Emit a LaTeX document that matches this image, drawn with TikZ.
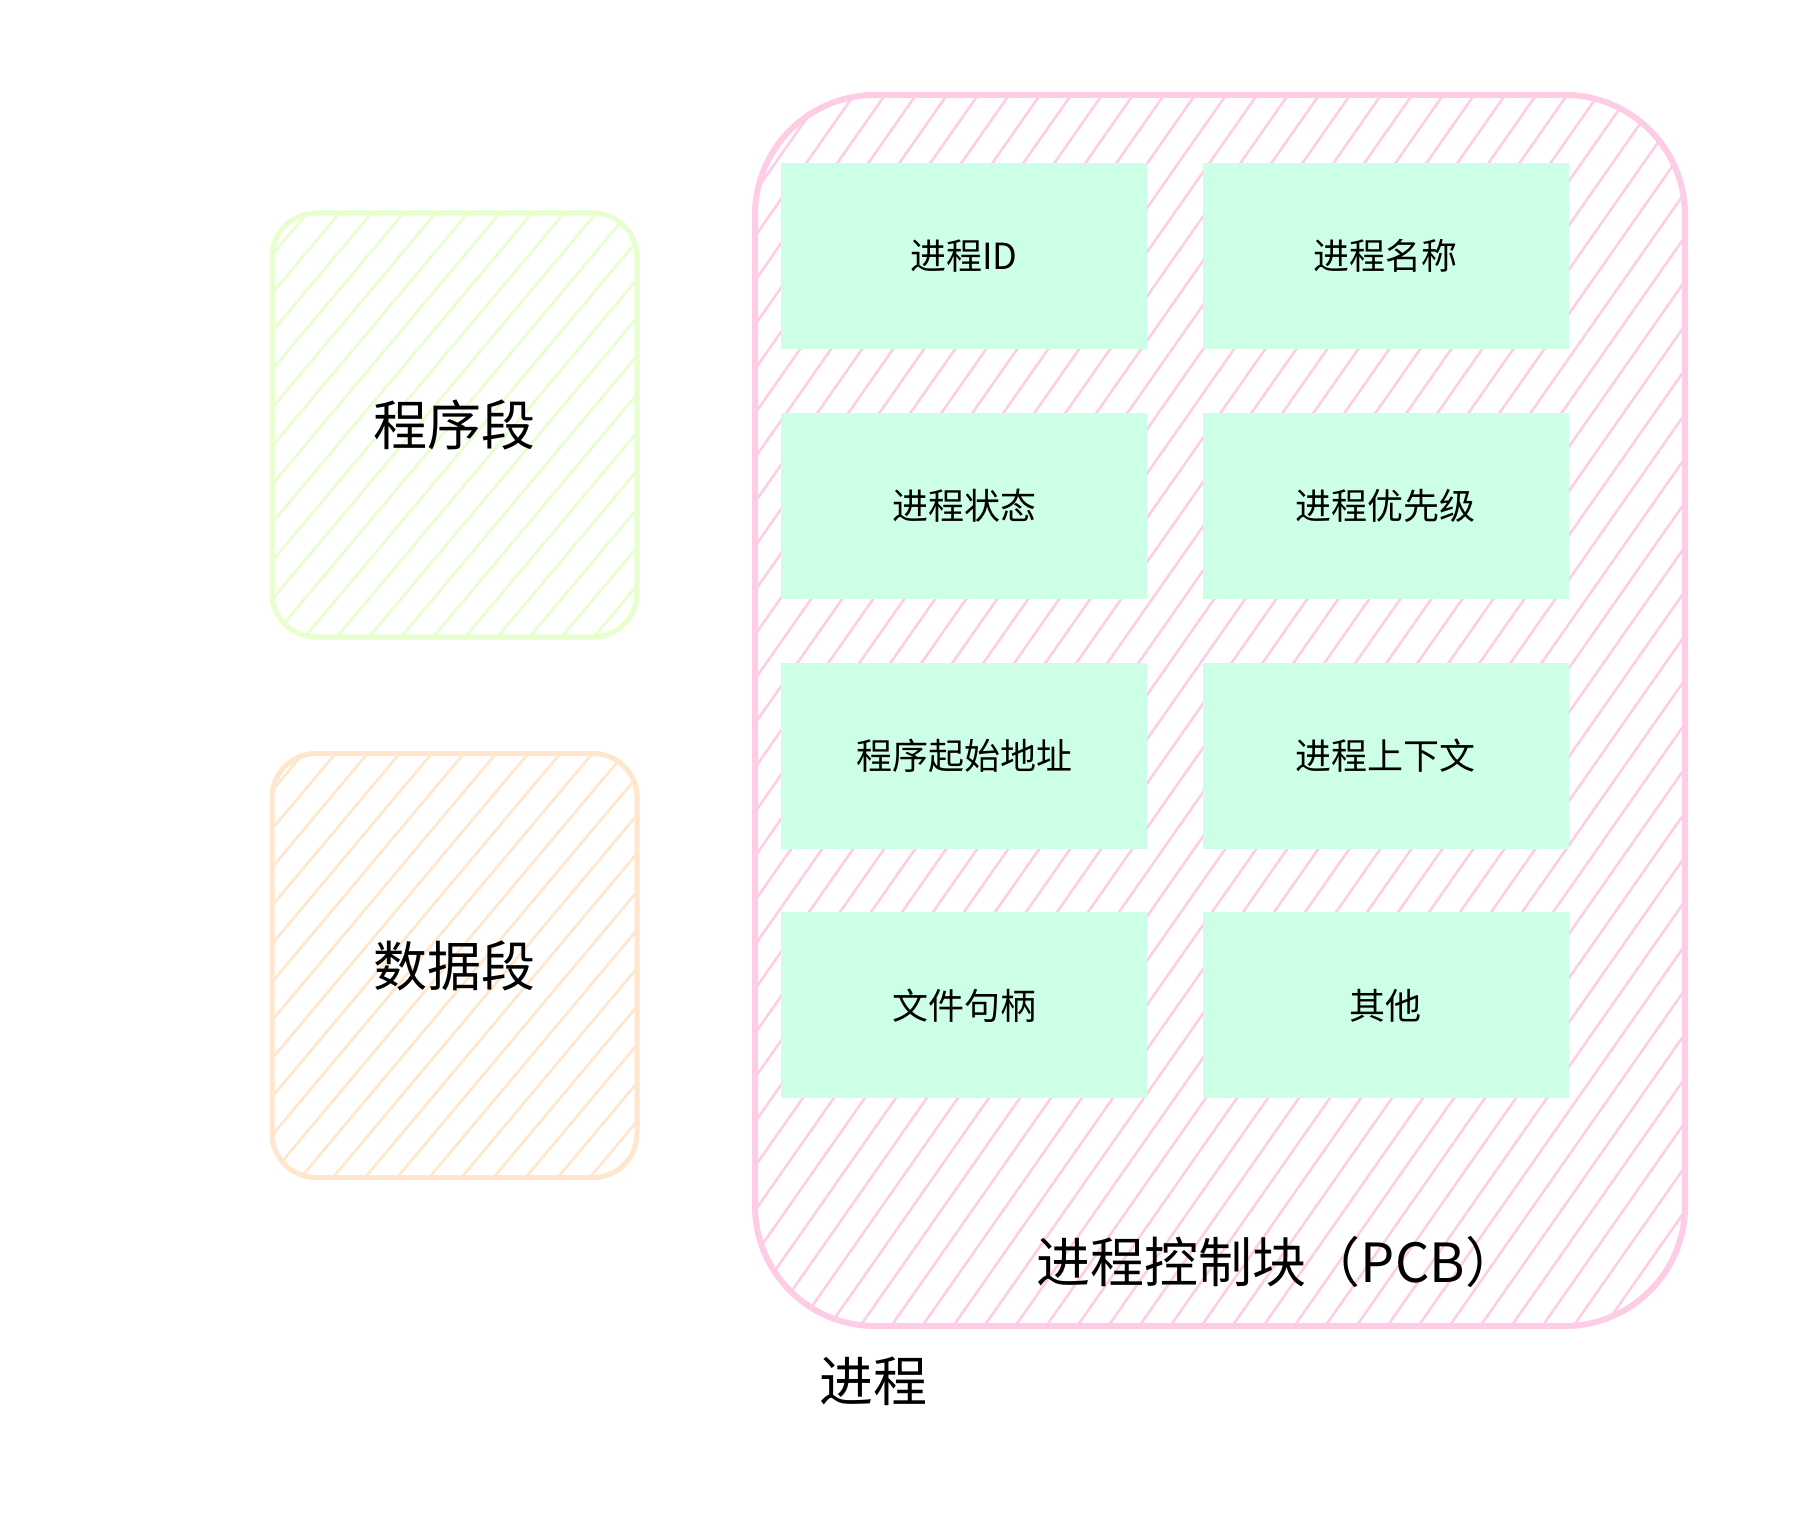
\documentclass[tikz,border=0pt]{standalone}
\usepackage{fontspec}
\setmainfont{Noto Sans CJK SC}
\usetikzlibrary{positioning,patterns.meta}
\definecolor{pcbpink}{HTML}{FFCCE6}
\definecolor{codegreen}{HTML}{E6FFCC}
\definecolor{dataorange}{HTML}{FFE6CC}
\definecolor{cellmint}{HTML}{CCFFE6}

\begin{document}
\begin{tikzpicture}[x=0.5pt,y=-0.5pt,
  seg/.style={draw=#1,line width=2.5pt,rounded corners=22pt,inner sep=0pt,
    minimum width=182.5pt,minimum height=212pt,
    pattern={Lines[angle=50,distance=12.3pt,line width=1.3pt]},pattern color=#1,
    font=\fontsize{27pt}{32pt}\selectfont},
  cell/.style={fill=cellmint,minimum width=183pt,minimum height=93pt,inner sep=0pt,
    font=\fontsize{18pt}{22pt}\selectfont},
  big/.style={inner sep=0pt,font=\fontsize{27pt}{32pt}\selectfont}]
\fill[white] (0,0) rectangle (1806,1536);
\useasboundingbox (0,0) rectangle (1806,1536);
% segments
\node[seg=codegreen] (code) at (454.5,425) {程序段};
\node[seg=dataorange] (data) at (454.5,965.5) {数据段};
% process control block
\node[draw=pcbpink,line width=3pt,rounded corners=60pt,minimum width=465pt,minimum height=615.5pt,
  pattern={Lines[angle=55,distance=12.7pt,line width=1.25pt]},pattern color=pcbpink] (pcb) at (1220,710.5) {};
\node[cell] (pid) at (964,256) {进程ID};
\node[cell,right=27.5pt of pid] (pname) {进程名称};
\node[cell,below=31.5pt of pid] (pstate) {进程状态};
\node[cell,right=27.5pt of pstate] (pprio) {进程优先级};
\node[cell,below=31.5pt of pstate] (paddr) {程序起始地址};
\node[cell,right=27.5pt of paddr] (pctx) {进程上下文};
\node[cell,below=31.5pt of paddr] (pfile) {文件句柄};
\node[cell,right=27.5pt of pfile] (pother) {其他};
\node[big] (pcblabel) at (1278,1262) {进程控制块（PCB）};
\node[big] (proclabel) at (873,1381) {进程};
\end{tikzpicture}
\end{document}
